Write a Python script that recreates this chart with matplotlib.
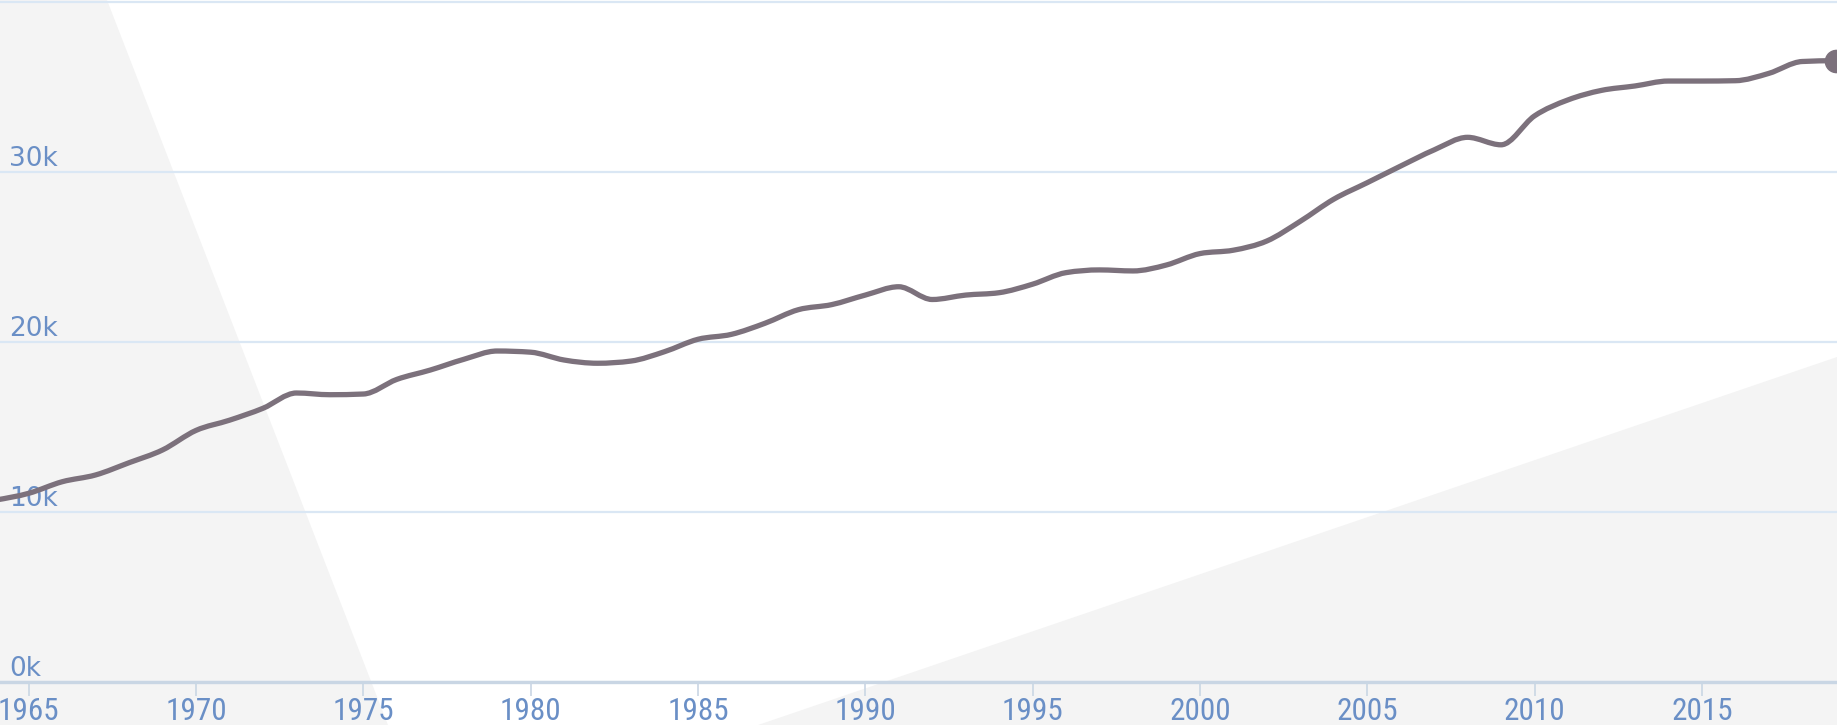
import numpy as np
import matplotlib
matplotlib.use("Agg")
import matplotlib.pyplot as plt
from matplotlib import font_manager as fm
from matplotlib.path import Path
from matplotlib.patches import PathPatch, Polygon
from matplotlib.transforms import blended_transform_factory

years = list(range(1964, 2020))
values = [10700, 11100, 11780, 12180, 12900, 13650, 14800, 15400, 16100, 17000,
          16900, 16940, 17800, 18350, 18980, 19470, 19400, 18940, 18750, 18880,
          19430, 20160, 20450, 21100, 21900, 22200, 22760, 23250, 22500, 22760,
          22900, 23400, 24080, 24240, 24180, 24530, 25200, 25400, 25940, 27100,
          28400, 29370, 30350, 31300, 32040, 31600, 33300, 34240, 34800, 35060,
          35350, 35350, 35370, 35800, 36500, 36550]
x_ticks = [1965, 1970, 1975, 1980, 1985, 1990, 1995, 2000, 2005, 2010, 2015]
y_ticks = [0, 10000, 20000, 30000, 40000]
y_labels = ["0k", "10k", "20k", "30k"]

line_col = "#7c717c"
label_col = "#6a8fc6"
grid_col = "#dae7f4"

# pick a narrow face for the year labels if one is around
names = {f.name for f in fm.fontManager.ttflist}
narrow = next((n for n in ["Liberation Sans Narrow", "Roboto Condensed",
                           "Open Sans Condensed"] if n in names), "Liberation Sans")

W, H = 1837, 725
fig = plt.figure(figsize=(W / 100, H / 100), dpi=100, facecolor="white")

# soft grey background shapes
def px(pts):
    return [(x / W, 1 - y / H) for x, y in pts]

fig.add_artist(Polygon(px([(0, 0), (107, 0), (388, 725), (0, 725)]),
                       transform=fig.transFigure, facecolor="#f4f4f4",
                       edgecolor="none", zorder=0))
fig.add_artist(Polygon(px([(758, 725), (1837, 357), (1837, 725)]),
                       transform=fig.transFigure, facecolor="#f4f4f4",
                       edgecolor="none", zorder=0))

ax = fig.add_axes([0, 43 / H, 1, 682 / H])
ax.set_facecolor("none")
ax.set_xlim(1964.142, 2019.04)
ax.set_ylim(0, 40000 * 682 / 680)

for s in ["left", "right", "top"]:
    ax.spines[s].set_visible(False)
ax.spines["bottom"].set_color("#c9d6e4")
ax.spines["bottom"].set_linewidth(2.4)

ax.set_yticks(y_ticks)
ax.set_yticklabels([])
ax.tick_params(axis="y", length=0)
ax.grid(axis="y", color=grid_col, linewidth=1.6)
ax.set_axisbelow(True)

ax.set_xticks(x_ticks)
ax.set_xticklabels([str(y) for y in x_ticks])
ax.tick_params(axis="x", direction="out", length=10, width=1.2,
               color="#c9d6e4", pad=1.0, labelcolor=label_col,
               labelsize=22.5)
for t in ax.get_xticklabels():
    t.set_family(narrow)

# y labels sit inside the plot, just above their grid line
tr = blended_transform_factory(ax.transAxes, ax.transData)
for v, lab in zip(y_ticks, y_labels):
    ax.annotate(lab, xy=(0, v), xycoords=tr, xytext=(6.5, 4.5),
                textcoords="offset points", va="baseline", ha="left",
                fontsize=19, color=label_col, family="DejaVu Sans", zorder=1)

# monotone cubic curve through the points (like d3 curveMonotoneX)
x = np.array(years, dtype=float)
y = np.array(values, dtype=float)
h = np.diff(x)
s = np.diff(y) / h
m = np.zeros_like(y)
for i in range(1, len(x) - 1):
    p = (s[i - 1] * h[i] + s[i] * h[i - 1]) / (h[i - 1] + h[i])
    m[i] = (np.sign(s[i - 1]) + np.sign(s[i])) * min(abs(s[i - 1]), abs(s[i]), 0.5 * abs(p))
m[0] = (3 * s[0] - m[1]) / 2
m[-1] = (3 * s[-1] - m[-2]) / 2

verts = [(x[0], y[0])]
codes = [Path.MOVETO]
for i in range(len(x) - 1):
    d = h[i] / 3
    verts += [(x[i] + d, y[i] + m[i] * d), (x[i + 1] - d, y[i + 1] - m[i + 1] * d),
              (x[i + 1], y[i + 1])]
    codes += [Path.CURVE4] * 3
ax.add_patch(PathPatch(Path(verts, codes), facecolor="none", edgecolor=line_col,
                       linewidth=3.8, capstyle="round", joinstyle="round", zorder=3))

ax.plot([years[-1]], [values[-1]], "o", color=line_col, markersize=16, zorder=4)

fig.savefig("out.png", dpi=100, facecolor="white")
